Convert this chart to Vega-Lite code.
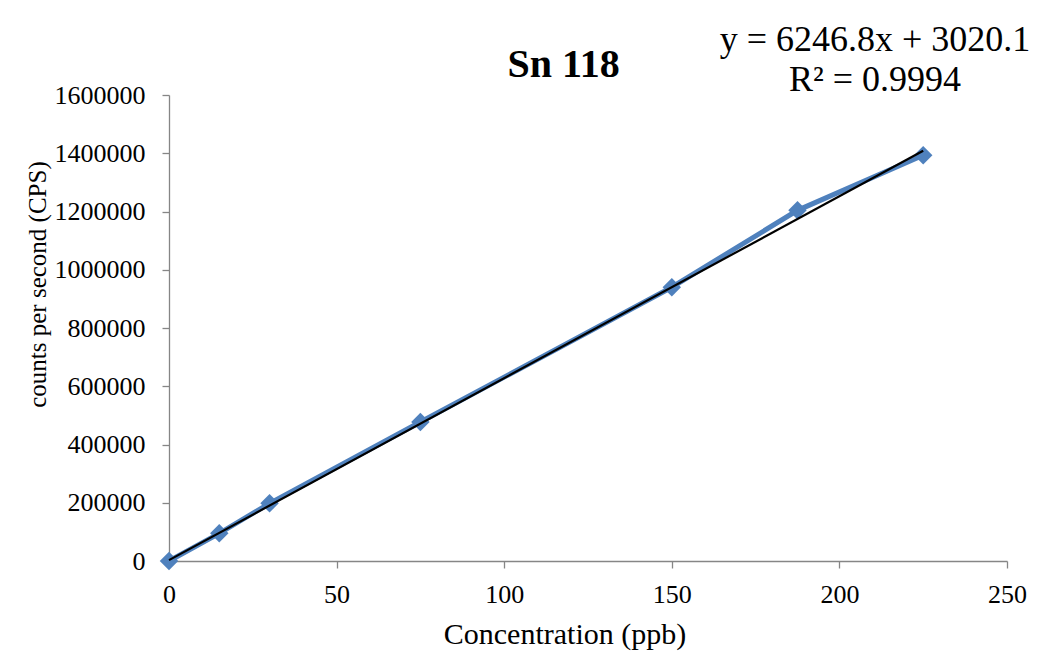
{
  "$schema": "https://vega.github.io/schema/vega-lite/v6.json",
  "autosize": {"type": "none"},
  "padding": {"left": 169, "top": 95, "right": 33, "bottom": 100},
  "width": 838,
  "height": 466,
  "background": "white",
  "config": {
    "view": {"stroke": null},
    "font": "Liberation Serif",
    "axis": {"grid": false, "labelFlush": false, "domainColor": "#868686", "tickColor": "#868686", "labelColor": "black", "titleColor": "black", "labelFont": "Liberation Serif", "titleFont": "Liberation Serif", "labelFontSize": 26, "titleFontWeight": "normal", "tickSize": 7, "domainWidth": 1.3, "tickWidth": 1.3}
  },
  "datasets": {
    "points": [
      {"conc": 0, "cps": 0},
      {"conc": 15, "cps": 95000},
      {"conc": 30, "cps": 198000},
      {"conc": 75, "cps": 477000},
      {"conc": 150, "cps": 940000},
      {"conc": 187.5, "cps": 1204000},
      {"conc": 225, "cps": 1393000}
    ],
    "trend": [
      {"conc": 0, "cps": 3020.1},
      {"conc": 225, "cps": 1408550.1}
    ],
    "labels": [
      {"conc": 210.6, "cps": 1751000, "text": "y = 6246.8x + 3020.1"},
      {"conc": 210.6, "cps": 1613700, "text": "R² = 0.9994"}
    ],
    "heading": [
      {"conc": 117.7, "cps": 1661800, "text": "Sn 118"}
    ]
  },
  "encoding": {
    "x": {"field": "conc", "type": "quantitative", "scale": {"domain": [0, 250]}, "axis": {"title": "Concentration (ppb)", "titleFontSize": 30, "values": [0, 50, 100, 150, 200, 250], "labelPadding": 13, "titleX": 395.5, "titleY": 82, "titleBaseline": "alphabetic", "titleAnchor": null}},
    "y": {"field": "cps", "type": "quantitative", "scale": {"domain": [0, 1600000]}, "axis": {"title": "counts per second (CPS)", "titleFontSize": 25, "values": [0, 200000, 400000, 600000, 800000, 1000000, 1200000, 1400000, 1600000], "format": "d", "labelPadding": 17, "titleX": -124, "titleY": 189, "titleBaseline": "alphabetic"}}
  },
  "layer": [
    {"data": {"name": "points"}, "mark": {"type": "line", "color": "#4F81BD", "strokeWidth": 5}},
    {"data": {"name": "points"}, "mark": {"type": "point", "shape": "diamond", "filled": true, "color": "#4F81BD", "size": 340, "opacity": 1}},
    {"data": {"name": "trend"}, "mark": {"type": "line", "color": "black", "strokeWidth": 2.2}},
    {"data": {"name": "labels"}, "mark": {"type": "text", "font": "Liberation Serif", "fontSize": 36, "color": "black", "align": "center", "baseline": "alphabetic"}, "encoding": {"text": {"field": "text"}}},
    {"data": {"name": "heading"}, "mark": {"type": "text", "font": "Liberation Serif", "fontSize": 40, "fontWeight": "bold", "color": "black", "align": "center", "baseline": "alphabetic"}, "encoding": {"text": {"field": "text"}}}
  ]
}
